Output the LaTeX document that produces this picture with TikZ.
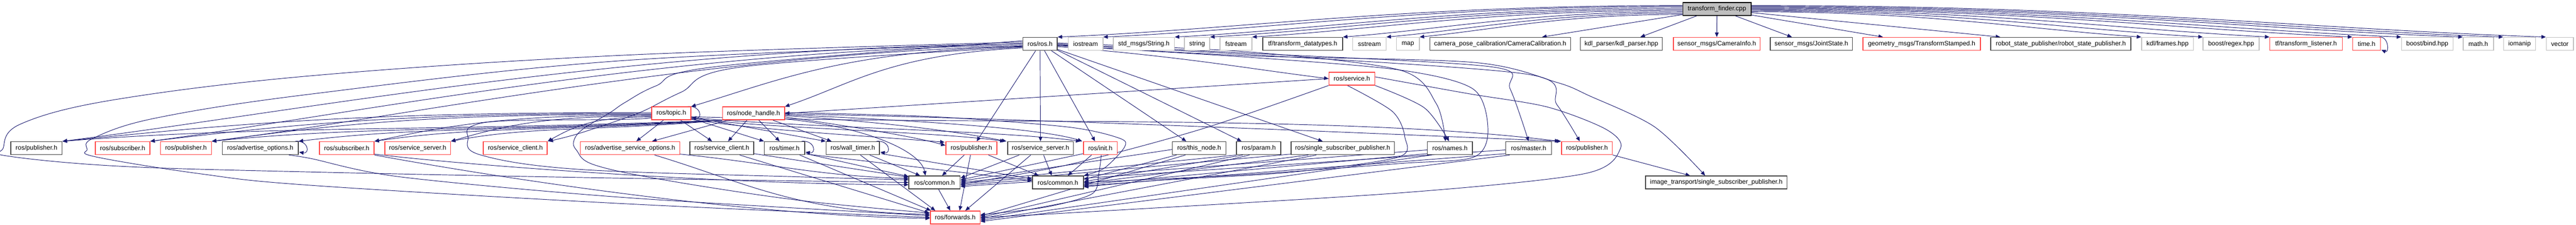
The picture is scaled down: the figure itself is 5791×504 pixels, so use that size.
\documentclass[tikz,border=0pt]{standalone}
\usepackage{fontspec}
\setmainfont{Liberation Sans}
\usetikzlibrary{arrows.meta,calc}
\pgfdeclarelayer{back}
\pgfdeclarelayer{bg}
\pgfsetlayers{back,bg,main}
\definecolor{ecol}{RGB}{25,25,112}
\definecolor{nred}{RGB}{255,64,64}
\definecolor{ngray}{RGB}{191,191,191}
\definecolor{nblk}{RGB}{64,64,64}
\newcommand{\bx}[6]{\node[#2, minimum width={(#4-#3)*0.5pt}] (#1) at ({(#3+#4)/2},#5) {#6};}
\newcommand{\selfloop}[1]{\draw[e] ($(#1.north east)+(-8,0)$) .. controls +(30,-3) and +(25,4) .. ($(#1.east)+(1,9)$);}
\begin{document}
\begin{tikzpicture}[x=0.5pt,y=-0.5pt,
  nb/.style={rectangle, inner sep=0pt, minimum height=14.5pt, line width=0.9pt, fill=white, font=\fontsize{7.2}{8.6}\selectfont},
  blk/.style={nb, draw=nblk},
  rdn/.style={nb, draw=nred},
  gry/.style={nb, draw=ngray},
  rootn/.style={nb, draw=black, fill=ngray},
  e/.style={draw=ecol, line width=0.55pt, -{Triangle[length=5pt,width=4.2pt]}}]
\useasboundingbox (0,0) rectangle (5791,504);
\begin{pgfonlayer}{back}
\fill[white] (0,0) rectangle (5791,504);
\end{pgfonlayer}
% row 0
\bx{T}{rootn}{3783.1}{3936.4}{20.3}{transform\_finder.cpp}
% row 1
\bx{R}{blk}{2299.5}{2376.8}{98.5}{ros/ros.h}
\bx{iost}{gry}{2401.3}{2479.4}{98.5}{iostream}
\bx{strh}{gry}{2502.7}{2640.1}{98.5}{std\_msgs/String.h}
\bx{strg}{gry}{2662.5}{2719.6}{98.5}{string}
\bx{fstr}{gry}{2742.8}{2814.3}{98.5}{fstream}
\bx{tfdt}{blk}{2838.8}{3018.3}{98.5}{tf/transform\_datatypes.h}
\bx{sstr}{gry}{3041}{3116}{98.5}{sstream}
\bx{map}{gry}{3139.3}{3190.6}{98.5}{map}
\bx{cam}{blk}{3214.3}{3530.8}{98.5}{camera\_pose\_calibration/CameraCalibration.h}
\bx{kdlp}{blk}{3552.8}{3736.9}{98.5}{kdl\_parser/kdl\_parser.hpp}
\bx{cami}{rdn}{3761.8}{3956.9}{98.5}{sensor\_msgs/CameraInfo.h}
\bx{js}{blk}{3979.6}{4164.5}{98.5}{sensor\_msgs/JointState.h}
\bx{ts}{rdn}{4187.9}{4451.9}{98.5}{geometry\_msgs/TransformStamped.h}
\bx{rsp}{blk}{4475.4}{4790.4}{98.5}{robot\_state\_publisher/robot\_state\_publisher.h}
\bx{frm}{gry}{4814.5}{4930.9}{98.5}{kdl/frames.hpp}
\bx{rgx}{gry}{4952.7}{5078.6}{98.5}{boost/regex.hpp}
\bx{tfl}{rdn}{5102.6}{5265.6}{98.5}{tf/transform\_listener.h}
\bx{tim}{rdn}{5288.9}{5351.5}{98.5}{time.h}
\bx{bnd}{gry}{5398.8}{5514.5}{98.5}{boost/bind.hpp}
\bx{mth}{gry}{5537.1}{5605.5}{98.5}{math.h}
\bx{iom}{gry}{5628}{5700}{98.5}{iomanip}
\bx{vec}{gry}{5724.1}{5785.2}{98.5}{vector}
% row 1.5 and 2
\bx{S}{rdn}{2987.5}{3090.6}{176.5}{ros/service.h}
\bx{TOP}{rdn}{1465.2}{1553.1}{254.5}{ros/topic.h}
\bx{NH}{rdn}{1624.1}{1763.8}{254.5}{ros/node\_handle.h}
% row 3
\bx{P0}{blk}{24.6}{139.7}{332.5}{ros/publisher.h}
\bx{SUBa}{rdn}{214.3}{337.0}{332.5}{ros/subscriber.h}
\bx{P1}{rdn}{360.7}{475.4}{332.5}{ros/publisher.h}
\bx{AO}{blk}{499.5}{670.5}{332.5}{ros/advertise\_options.h}
\bx{SUBb}{rdn}{717.9}{841.1}{332.5}{ros/subscriber.h}
\bx{SSa}{rdn}{865.2}{1012.9}{332.5}{ros/service\_server.h}
\bx{SCa}{rdn}{1086.6}{1230.3}{332.5}{ros/service\_client.h}
\bx{ASO}{rdn}{1304.9}{1528.1}{332.5}{ros/advertise\_service\_options.h}
\bx{SCb}{blk}{1550.9}{1694.6}{332.5}{ros/service\_client.h}
\bx{TMR}{blk}{1718.3}{1808.9}{332.5}{ros/timer.h}
\bx{WT}{blk}{1857.1}{1977.2}{332.5}{ros/wall\_timer.h}
\bx{P3}{rdn}{2126.3}{2241.1}{332.5}{ros/publisher.h}
\bx{SSb}{blk}{2265.2}{2412.9}{332.5}{ros/service\_server.h}
\bx{INIT}{rdn}{2435.7}{2511.6}{332.5}{ros/init.h}
\bx{THIS}{blk}{2635.7}{2755.8}{332.5}{ros/this\_node.h}
\bx{PARAM}{blk}{2779.9}{2879.5}{332.5}{ros/param.h}
\bx{SSP}{blk}{2902.2}{3134.4}{332.5}{ros/single\_subscriber\_publisher.h}
\bx{NAMES}{blk}{3208.9}{3310.2}{332.5}{ros/names.h}
\bx{MASTER}{blk}{3384.8}{3487.9}{332.5}{ros/master.h}
\bx{P4}{rdn}{3510.3}{3624.7}{332.5}{ros/publisher.h}
% row 4 and 5
\bx{COMa}{blk}{2043.3}{2158.5}{409.5}{ros/common.h}
\bx{COMb}{blk}{2321}{2435.7}{409.5}{ros/common.h}
\bx{IMG}{blk}{3699.5}{4017.0}{409.5}{image\_transport/single\_subscriber\_publisher.h}
\bx{FWD}{rdn}{2091.4}{2203.3}{488}{ros/forwards.h}

\begin{pgfonlayer}{bg}
% ---- transform_finder.cpp
\foreach \n/\dd/\o in {R/1406/-8, iost/1304/-6, strh/1143/-3, strg/1063/0, fstr/969/3, tfdt/765/6, sstr/667/9, map/592/12}
  \draw[e] ($(T.west)+(0,\o)$) .. controls +({-0.45*\dd},0) and +({0.3*\dd},-18) .. (\n.north east);
\draw[e] ($(T.south west)+(0,-3)$) -- ($(cam.north east)+(-65,0)$);
\draw[e] ($(T.south west)+(32,0)$) -- ($(kdlp.north east)+(-50,0)$);
\draw[e] (T.south) -- (cami.north);
\draw[e] ($(T.south east)+(-36,0)$) -- ($(js.north)+(-44,0)$);
\draw[e] ($(T.south east)+(0,-2)$) -- ($(ts.north)+(-87,0)$);
\draw[e] ($(T.east)+(0,8)$) -- ($(rsp.north west)+(22,0)$);
\foreach \n/\dd/\o in {frm/878/6, rgx/1017/4, tfl/1167/2, tim/1353/0, bnd/1463/-2, mth/1601/-4, iom/1692/-6, vec/1788/-8}
  \draw[e] ($(T.east)+(0,\o)$) .. controls +({0.45*\dd},0) and +({-0.3*\dd},-18) .. (\n.north west);
\draw[e] ($(tim.north east)+(-4,0)$) .. controls +(22,-2) and +(18,8) .. ($(tim.south east)+(1,-2)$);
% ---- ros/ros.h
\draw[e] (R.west) .. controls +(-900,10) and +(550,-70) .. (P0.north east);
\draw[e] ($(R.west)+(0,3)$) .. controls +(-800,10) and +(450,-60) .. (SUBa.north east);
\draw[e] ($(R.west)+(0,5)$) .. controls +(-700,15) and +(400,-50) .. (P1.north east);
\draw[e] plot[smooth,tension=0.6] coordinates {($(R.west)+(0,-4)$) (1400,124) (700,170) (250,225) (45,279) (7,333) (16,350) (268,373) (700,386) (1400,400) (COMa.west)};
\draw[e] plot[smooth,tension=0.6] coordinates {($(R.west)+(0,-1)$) (1400,136) (700,211) (350,265) (210,310) (196,335) (215,352) (450,390) (700,416) (1400,457) (FWD.west)};
\draw[e] plot[smooth,tension=0.6] coordinates {($(R.west)+(0,-7)$) (1606,150) (1474,193) (1405,230) (1371,253) (1310,290) (1290,316) (1296,337) (1336,370) (1500,405) (1800,450) ($(FWD.west)+(0,-10)$)};
\draw[e] plot[smooth,tension=0.6] coordinates {($(R.west)+(0,7)$) (1669,150) (1531,207) (1451,247) (1405,265) (1300,300) ($(SCa.north east)+(2,0)$)};
\draw[e] ($(R.west)+(0,6)$) .. controls +(-400,10) and +(200,-60) .. (TOP.north east);
\draw[e] ($(R.west)+(0,9)$) .. controls +(-300,15) and +(150,-50) .. (NH.north east);
\draw[e] ($(R.south)+(-10,0)$) -- ($(P3.north)+(12,0)$);
\draw[e] (R.south) -- (SSb.north);
\draw[e] ($(R.south)+(10,0)$) -- ($(INIT.north)+(-12,0)$);
\draw[e] ($(R.south east)+(-14,0)$) -- ($(THIS.north)+(-29,0)$);
\draw[e] ($(R.south east)+(0,-1)$) -- ($(PARAM.north west)+(12,0)$);
\draw[e] ($(R.south east)+(0,-3)$) -- ($(SSP.north west)+(72,0)$);
\draw[e] ($(R.east)+(0,6)$) .. controls +(300,25) and +(-200,-25) .. (S.west);
\draw[e] plot[smooth] coordinates {($(R.east)+(0,-2)$) (2800,116) (3146,157) (3229,233) ($(NAMES.north)+(-10,0)$)};
\draw[e] plot[smooth] coordinates {($(R.east)+(0,0)$) (2800,119) (3353,150) (3395,200) (MASTER.north)};
\draw[e] plot[smooth] coordinates {($(R.east)+(0,2)$) (2800,122) (3436,167) (3500,235) ($(P4.north)+(-16,0)$)};
\draw[e] plot[smooth] coordinates {($(R.east)+(0,3)$) (2800,125) (3312,140) (3500,185) (3573,215) (3720,285) ($(IMG.north)+(-25,0)$)};
\draw[e] plot[smooth] coordinates {($(R.east)+(0,4)$) (2800,128) (3146,157) (3312,200) (3345,293) (3312,353) (3146,367) (2800,392) (COMb.east)};
% ---- ros/service.h
\draw[e] (S.west) -- (NH.east);
\draw[e] plot[smooth] coordinates {(S.south east) (3202,242) ($(NAMES.north)+(-2,0)$)};
\draw[e] plot[smooth] coordinates {(S.south west) (2700,290) (2400,370) ($(COMa.east)+(0,4)$)};
\draw[e] plot[smooth] coordinates {($(S.south)+(-10,0)$) (3130,250) (3158,307) (3142,353) (2897,387) (2600,405) ($(COMb.east)+(0,10)$)};
\draw[e] plot[smooth] coordinates {($(S.east)+(0,-4)$) (3300,210) (3478,240) (3610,290) (3643,333) (3561,390) (3146,433) (2400,478) (FWD.east)};
% ---- ros/topic.h
\selfloop{TOP}
\draw[e] ($(TOP.south west)+(27,0)$) -- ($(ASO.north)+(14,0)$);
\draw[e] ($(TOP.south)+(21,0)$) -- ($(SCb.north)+(-22,0)$);
\draw[e] ($(TOP.south east)+(0,-4)$) -- (TMR.north west);
\draw[e] ($(TOP.south east)+(0,-7)$) -- (WT.north west);
\foreach \n/\dd/\o in {P0/1325/-2, SUBa/1128/0, P1/990/2, SUBb/624/4, SSa/452/6, SCa/235/8}
  \draw[e] ($(TOP.west)+(0,\o)$) .. controls +({-0.5*\dd},0) and +({0.3*\dd},-40) .. (\n.north east);
\draw[e] plot[smooth,tension=0.6] coordinates {($(TOP.west)+(0,10)$) (1400,268) (1141,271) (1061,283) (1052,307) (1078,347) (1300,380) (1800,397) ($(COMa.west)+(0,-6)$)};
\draw[e] ($(TOP.south east)+(0,-2)$) .. controls (1700,292) and (1950,305) .. ($(P3.north west)+(-2,2)$);
\draw[e] ($(TOP.south east)+(0,-4)$) .. controls (1750,290) and (2100,295) .. ($(SSb.north west)+(-6,0)$);
\draw[e] ($(TOP.south east)+(0,-6)$) .. controls (1800,286) and (2250,293) .. ($(INIT.north west)+(-6,0)$);
\draw[e] ($(TOP.south east)+(0,-8)$) .. controls (2200,282) and (3000,255) .. ($(P4.north west)+(-4,0)$);
% ---- ros/node_handle.h
\draw[e] ($(NH.south west)+(13,0)$) -- ($(ASO.north west)+(162,0)$);
\draw[e] ($(NH.south west)+(56,0)$) -- ($(SCb.north)+(14,0)$);
\draw[e] ($(NH.south)+(12,0)$) -- ($(TMR.north)+(-11,0)$);
\draw[e] ($(NH.south east)+(-27,0)$) -- ($(WT.north west)+(13,0)$);
\foreach \n/\dd in {P0/1484, P1/1149, AO/953, SUBb/783, SSa/611}
  \draw[e] (NH.south west) .. controls +({-0.45*\dd},25) and +({0.3*\dd},-35) .. (\n.north east);
\draw[e] ($(NH.east)+(0,8)$) .. controls (1900,282) and (2050,305) .. ($(P3.west)+(0,-6)$);
\draw[e] ($(NH.east)+(0,5)$) .. controls (2000,275) and (2150,295) .. ($(SSb.north west)+(-2,0)$);
\draw[e] ($(NH.east)+(0,3)$) .. controls (2100,272) and (2350,290) .. ($(INIT.north west)+(-2,0)$);
\draw[e] ($(NH.east)+(0,1)$) .. controls (2300,265) and (3100,300) .. (P4.north west);
\draw[e] ($(NH.south east)+(0,-3)$) .. controls (1950,285) and (2070,340) .. ($(COMa.north west)+(38,0)$);
\draw[e] plot[smooth] coordinates {($(NH.east)+(0,-2)$) (2100,262) (2400,285) (2516,310) (2528,330) (2483,377) (COMb.north east)};
% ---- row 3 to rows 4/5
\selfloop{AO}
\selfloop{TMR}
\selfloop{WT}
\draw[e] plot[smooth] coordinates {($(AO.south east)+(-22,0)$) (700,356) (900,397) (1400,443) ($(FWD.west)+(0,-4)$)};
\draw[e] ($(SUBb.south east)+(0,-2)$) .. controls +(200,25) and +(-400,0) .. ($(COMa.west)+(0,5)$);
\draw[e] (SUBb.south east) .. controls +(300,55) and +(-400,-5) .. ($(FWD.west)+(0,2)$);
\draw[e] ($(ASO.south east)+(0,-2)$) .. controls +(200,20) and +(-200,-5) .. ($(COMa.west)+(0,-9)$);
\draw[e] ($(ASO.south)+(55,0)$) .. controls +(200,60) and +(-300,-5) .. ($(FWD.west)+(0,-7)$);
\draw[e] ($(SCb.south east)+(0,-3)$) -- ($(COMa.west)+(0,-12)$);
\draw[e] ($(SCb.south)+(40,0)$) -- ($(FWD.north west)+(-2,5)$);
\draw[e] ($(TMR.south east)+(2,-3)$) -- ($(COMa.north west)+(0,2)$);
\draw[e] ($(TMR.south east)+(-12,0)$) -- ($(FWD.north west)+(2,0)$);
\draw[e] ($(TMR.south east)+(4,-2)$) -- ($(COMb.west)+(0,-4)$);
\draw[e] ($(WT.south east)+(-23,0)$) -- ($(COMa.north west)+(26,0)$);
\draw[e] ($(WT.south east)+(-44,0)$) -- ($(FWD.north west)+(12,0)$);
\draw[e] ($(WT.south east)+(3,-3)$) -- ($(COMb.west)+(0,-8)$);
\draw[e] ($(P3.south)+(-16,0)$) -- ($(COMa.north)+(17,0)$);
\draw[e] ($(P3.south)+(-2,0)$) -- ($(FWD.north)+(10,0)$);
\draw[e] ($(P3.south east)+(-20,0)$) -- ($(COMb.north west)+(15,0)$);
\draw[e] ($(SSb.south west)+(27,0)$) -- ($(COMa.east)+(0,-10)$);
\draw[e] ($(SSb.south west)+(53,0)$) -- ($(FWD.north east)+(-34,0)$);
\draw[e] ($(SSb.south)+(7,0)$) -- ($(COMb.north)+(-14,0)$);
\draw[e] ($(INIT.south west)+(0,-3)$) -- ($(COMa.east)+(0,-6)$);
\draw[e] ($(INIT.south west)+(19,0)$) -- ($(COMb.north east)+(-36,0)$);
\draw[e] plot[smooth] coordinates {($(INIT.south)+(2,0)$) (2470,390) (2455,435) (2350,465) ($(FWD.east)+(0,-6)$)};
\draw[e] ($(THIS.west)+(0,3)$) -- ($(COMa.east)+(0,-3)$);
\draw[e] ($(THIS.south west)+(10,0)$) -- ($(COMb.east)+(0,-7)$);
\draw[e] ($(THIS.south west)+(30,0)$) -- ($(FWD.east)+(0,-3)$);
\draw[e] (PARAM.south west) -- (COMa.east);
\draw[e] ($(PARAM.south west)+(15,0)$) -- ($(COMb.east)+(0,-2)$);
\draw[e] ($(PARAM.south west)+(30,0)$) -- (FWD.east);
\draw[e] ($(SSP.south west)+(0,-2)$) -- ($(COMa.east)+(0,3)$);
\draw[e] ($(SSP.south west)+(40,0)$) -- ($(COMb.east)+(0,2)$);
\draw[e] ($(SSP.south west)+(58,0)$) -- ($(FWD.east)+(0,3)$);
\draw[e] ($(NAMES.west)+(0,4)$) -- ($(COMa.east)+(0,6)$);
\draw[e] ($(NAMES.south west)+(0,-3)$) -- ($(COMb.east)+(0,5)$);
\draw[e] ($(NAMES.south west)+(10,0)$) -- ($(FWD.east)+(0,6)$);
\draw[e] ($(MASTER.west)+(0,4)$) -- ($(COMa.east)+(0,9)$);
\draw[e] ($(MASTER.south west)+(0,-3)$) -- ($(COMb.east)+(0,8)$);
\draw[e] ($(MASTER.south west)+(10,0)$) -- ($(FWD.east)+(0,9)$);
\draw[e] (P4.south east) -- ($(IMG.north)+(-59,0)$);
\draw[e] ($(COMa.south)+(9,0)$) -- ($(FWD.north)+(-11,0)$);
\end{pgfonlayer}
\end{tikzpicture}
\end{document}
